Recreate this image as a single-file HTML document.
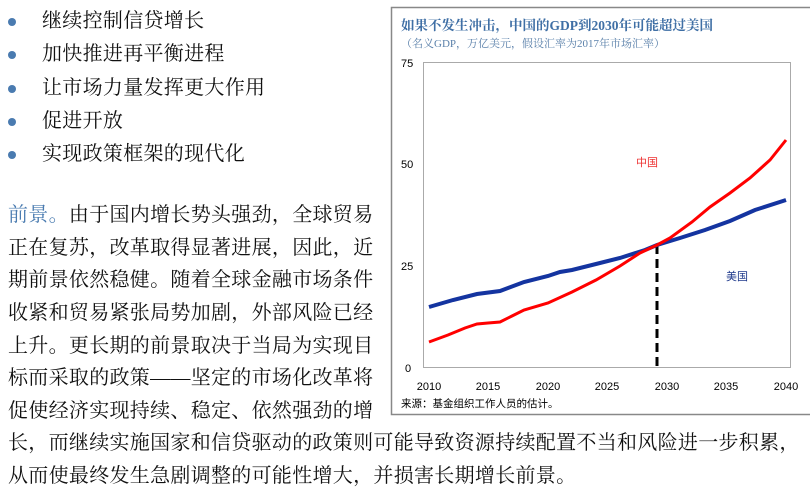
<!DOCTYPE html>
<html><head><meta charset="utf-8"><style>
body{margin:0;width:810px;height:499px;background:#fff;overflow:hidden;position:relative;font-family:"Liberation Serif","Noto Serif CJK SC",serif;}
.t{position:absolute;left:8px;font-size:20px;line-height:24px;letter-spacing:0.3px;color:#111;white-space:nowrap;}
.b{position:absolute;left:8px;width:8px;height:8px;border-radius:50%;background:#4a7bb0;}
</style></head><body>
<div class="b" style="top:18px"></div><div class="t" style="left:42px;top:9px">继续控制信贷增长</div>
<div class="b" style="top:51px"></div><div class="t" style="left:42px;top:42px">加快推进再平衡进程</div>
<div class="b" style="top:85px"></div><div class="t" style="left:42px;top:76px">让市场力量发挥更大作用</div>
<div class="b" style="top:118px"></div><div class="t" style="left:42px;top:109px">促进开放</div>
<div class="b" style="top:151px"></div><div class="t" style="left:42px;top:142px">实现政策框架的现代化</div>
<div class="t" style="top:203px"><span style="color:#4a7bb0">前景。</span>由于国内增长势头强劲，全球贸易</div>
<div class="t" style="top:236px">正在复苏，改革取得显著进展，因此，近</div>
<div class="t" style="top:268px">期前景依然稳健。随着全球金融市场条件</div>
<div class="t" style="top:301px">收紧和贸易紧张局势加剧，外部风险已经</div>
<div class="t" style="top:334px">上升。更长期的前景取决于当局为实现目</div>
<div class="t" style="top:366px">标而采取的政策——坚定的市场化改革将</div>
<div class="t" style="top:399px">促使经济实现持续、稳定、依然强劲的增</div>
<div class="t" style="top:431px">长，而继续实施国家和信贷驱动的政策则可能导致资源持续配置不当和风险进一步积累，</div>
<div class="t" style="top:464px">从而使最终发生急剧调整的可能性增大，并损害长期增长前景。</div>
<svg style="position:absolute;left:0;top:0" width="810" height="499" font-family="Liberation Sans, Noto Sans CJK SC, sans-serif">
<rect x="391.5" y="7.5" width="430" height="407" fill="none" stroke="#888" stroke-width="1.5"/>
<text x="401" y="30" font-size="13.5" fill="#3f6fa5" font-family="Liberation Serif, Noto Serif CJK SC, serif" font-weight="bold">如果不发生冲击，中国的GDP到2030年可能超过美国</text>
<text x="401" y="47" font-size="11" fill="#5a80aa" font-family="Liberation Serif, Noto Serif CJK SC, serif">（名义GDP，万亿美元，假设汇率为2017年市场汇率）</text>
<rect x="423.5" y="62.5" width="367" height="305" fill="none" stroke="#aaa" stroke-width="1"/>
<g font-size="11" fill="#000">
<text x="401" y="67">75</text><text x="401" y="168">50</text><text x="401" y="270">25</text><text x="405" y="372">0</text>
<g text-anchor="middle">
<text x="429" y="390">2010</text><text x="488" y="390">2015</text><text x="548" y="390">2020</text><text x="607" y="390">2025</text><text x="667" y="390">2030</text><text x="726" y="390">2035</text><text x="786" y="390">2040</text>
</g>
<text x="401" y="407" font-size="10.5">来源：基金组织工作人员的估计。</text>
</g>
<text x="636" y="166" font-size="11" fill="#e33">中国</text>
<text x="726" y="280" font-size="11" fill="#1f3a8c">美国</text>
<line x1="657" y1="245" x2="657" y2="367" stroke="#000" stroke-width="3" stroke-dasharray="9,5"/>
<polyline fill="none" stroke="#1434a0" stroke-width="4" points="429,307 453,300 477,294 500,291 524,282 548,276 560,272 572,270 596,264 620,258 645,250 657,245 680,238 705,230 730,221 755,210 786,200"/>
<polyline fill="none" stroke="#f00" stroke-width="3" points="429,342 448,335 465,328 477,324 488,323 500,322 512,316 524,310 548,303 572,292 596,280 620,266 640,253 657,245 670,238 692,222 710,207 730,193 750,178 770,160 786,140"/>
</svg>
</body></html>
